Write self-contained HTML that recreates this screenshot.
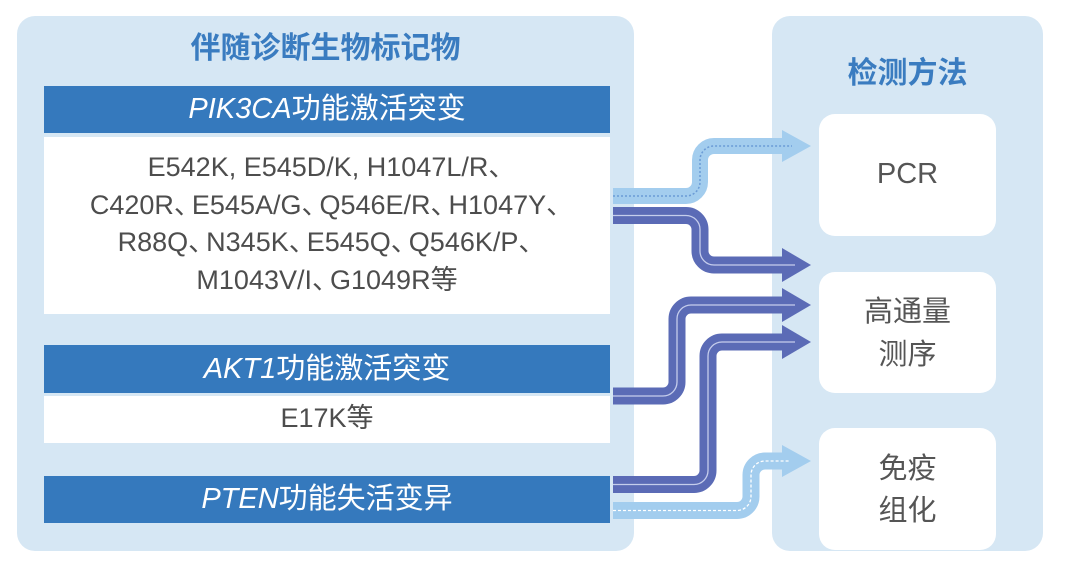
<!DOCTYPE html>
<html>
<head>
<meta charset="utf-8">
<style>
  html, body { margin:0; padding:0; }
  body { width:1065px; height:566px; position:relative; overflow:hidden; background:#ffffff;
         font-family:"Liberation Sans","Noto Sans CJK SC",sans-serif; }
  .panel { position:absolute; background:#d6e7f4; border-radius:18px; }
  .title { position:absolute; text-align:center; color:#3a7cc0; font-weight:bold; font-size:30px;
           font-family:"Liberation Sans","Noto Sans CJK SC",sans-serif; line-height:36px; }
  .hdr { position:absolute; left:44px; width:566px; background:#3579bd; color:#ffffff; text-align:center;
         font-size:29px; }
  .hdr i { font-style:italic; }
  .wb { position:absolute; left:44px; width:566px; background:#ffffff; }
  .line { position:absolute; left:44px; width:566px; text-align:center; color:#4d4d4d; font-size:27px;
          line-height:36px; white-space:nowrap; }
  .line s { text-decoration:none; margin-right:-9px; }
  .box { position:absolute; left:819px; width:177px; background:#ffffff; border-radius:16px; }
  .bt { position:absolute; left:819px; width:177px; text-align:center; color:#555555; font-size:29px;
        line-height:40px; }
</style>
</head>
<body>
  <div class="panel" style="left:17px;top:16px;width:617px;height:535px;"></div>
  <div class="panel" style="left:772px;top:16px;width:271px;height:535px;"></div>

  <div class="title" style="left:17px;width:617px;top:31px;">伴随诊断生物标记物</div>
  <div class="title" style="left:772px;width:271px;top:56px;">检测方法</div>

  <div class="hdr" style="top:86px;height:47px;line-height:47px;"><i>PIK3CA</i>功能激活突变</div>
  <div class="wb" style="top:137px;height:177px;"></div>
  <div class="line" style="top:149px;">E542K, E545D/K, H1047L/R<s>、</s></div>
  <div class="line" style="top:187px;">C420R<s>、</s>E545A/G<s>、</s>Q546E/R<s>、</s>H1047Y<s>、</s></div>
  <div class="line" style="top:224px;">R88Q<s>、</s>N345K<s>、</s>E545Q<s>、</s>Q546K/P<s>、</s></div>
  <div class="line" style="top:262px;">M1043V/I<s>、</s>G1049R等</div>

  <div class="hdr" style="top:345px;height:48px;line-height:48px;"><i>AKT1</i>功能激活突变</div>
  <div class="wb" style="top:396px;height:47px;"></div>
  <div class="line" style="top:400px;">E17K等</div>

  <div class="hdr" style="top:476px;height:47px;line-height:47px;"><i>PTEN</i>功能失活变异</div>

  <div class="box" style="top:114px;height:122px;"></div>
  <div class="box" style="top:272px;height:121px;"></div>
  <div class="box" style="top:428px;height:122px;"></div>
  <div class="bt" style="top:154px;">PCR</div>
  <div class="bt" style="top:292px;">高通量</div>
  <div class="bt" style="top:335px;">测序</div>
  <div class="bt" style="top:449px;">免疫</div>
  <div class="bt" style="top:491px;">组化</div>

  <svg width="1065" height="566" style="position:absolute;left:0;top:0;" xmlns="http://www.w3.org/2000/svg">
    <!-- Arrow 1: light, to PCR -->
    <path d="M613,196 H686 A14,14 0 0 0 700,182 V160 A14,14 0 0 1 714,146 H784" fill="none" stroke="#a3cdee" stroke-width="16"/>
    <polygon points="782,130 811,146 782,162" fill="#a3cdee"/>
    <path d="M613,196 H686 A14,14 0 0 0 700,182 V160 A14,14 0 0 1 714,146 H792" fill="none" stroke="#6b9bd6" stroke-width="1.5" stroke-dasharray="2 2"/>

    <!-- Arrow 2: dark, PIK3CA to NGS -->
    <path d="M613,215.5 H686 A14,14 0 0 1 700,229.5 V251 A14,14 0 0 0 714,265 H784" fill="none" stroke="#5b6bb6" stroke-width="17"/>
    <polygon points="782,248 811,265 782,282" fill="#5b6bb6"/>
    <path d="M613,215.5 H686 A14,14 0 0 1 700,229.5 V251 A14,14 0 0 0 714,265 H795" fill="none" stroke="#c5cdec" stroke-width="1.3"/>

    <!-- Arrow 3: dark, AKT1 to NGS -->
    <path d="M613,396 H663 A14,14 0 0 0 677,382 V319 A14,14 0 0 1 691,305 H784" fill="none" stroke="#5b6bb6" stroke-width="17"/>
    <polygon points="782,288 811,305 782,322" fill="#5b6bb6"/>
    <path d="M613,396 H663 A14,14 0 0 0 677,382 V319 A14,14 0 0 1 691,305 H795" fill="none" stroke="#c5cdec" stroke-width="1.3"/>

    <!-- Arrow 4: dark, PTEN to NGS -->
    <path d="M613,484.5 H694 A14,14 0 0 0 708,470.5 V356 A14,14 0 0 1 722,342 H784" fill="none" stroke="#5b6bb6" stroke-width="17"/>
    <polygon points="782,325 811,342 782,359" fill="#5b6bb6"/>
    <path d="M613,484.5 H694 A14,14 0 0 0 708,470.5 V356 A14,14 0 0 1 722,342 H795" fill="none" stroke="#c5cdec" stroke-width="1.3"/>

    <!-- Arrow 5: light, PTEN to IHC -->
    <path d="M613,510.5 H737 A14,14 0 0 0 751,496.5 V475 A14,14 0 0 1 765,461 H784" fill="none" stroke="#a3cdee" stroke-width="17"/>
    <polygon points="782,445 811,461 782,477" fill="#a3cdee"/>
    <path d="M613,510.5 H737 A14,14 0 0 0 751,496.5 V475 A14,14 0 0 1 765,461 H790" fill="none" stroke="#ffffff" stroke-width="1.3" stroke-dasharray="3 2"/>
  </svg>
</body>
</html>
